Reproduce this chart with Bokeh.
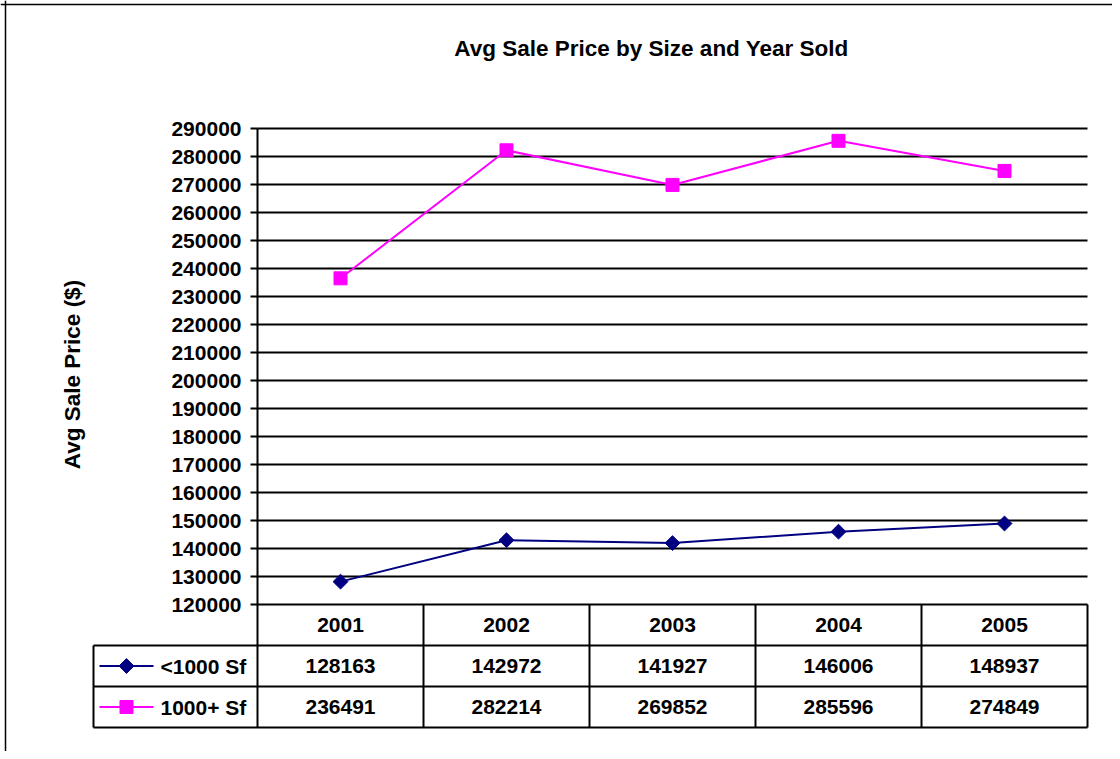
from bokeh.plotting import figure
from bokeh.models import (ColumnDataSource, Range1d, FixedTicker, BasicTickFormatter,
                          Label, Span)
from bokeh.embed import file_html
from bokeh.resources import INLINE
from bokeh.core.properties import value
import math

# ---------------- data ----------------
years = ["2001", "2002", "2003", "2004", "2005"]
small_name = "<1000 Sf"
small_vals = [128163, 142972, 141927, 146006, 148937]
large_name = "1000+ Sf"
large_vals = [236491, 282214, 269852, 285596, 274849]
y_ticks = list(range(120000, 290001, 10000))
title_text = "Avg Sale Price by Size and Year Sold"
y_label = "Avg Sale Price ($)"

# ---------------- layout constants (pixels) ----------------
W, H = 1112, 751
ORG = 0                 # picture offset of the figure origin
PX_X = 166.0            # pixels per category column
PX_Y = 476.0 / 170000   # pixels per $ unit
ROW = 41.0              # table row height in px
FONT = "Liberation Sans"
NAVY = "#000080"
PINK = "#FF00FF"

def xd(px):   # picture x -> category data x (2001 centre at picture x 340)
    return (px - 340.0) / PX_X

def yd(py):   # picture y -> $ value (120000 at picture y 604)
    return y_ticks[0] + (604 - py) / PX_Y

x_start = xd(ORG)
x_end = x_start + W / PX_X
y_end = yd(ORG)
y_start = y_end - H / PX_Y
t_end = (604 - ORG) / ROW
t_start = t_end - H / ROW

p = figure(width=W, height=H, output_backend="svg", toolbar_location=None,
           x_range=Range1d(x_start, x_end), y_range=Range1d(y_start, y_end),
           min_border=0, min_border_left=0, min_border_right=0,
           min_border_top=0, min_border_bottom=0)
p.extra_y_ranges = {"table": Range1d(t_start, t_end)}
p.outline_line_color = None
p.xgrid.visible = False
p.ygrid.visible = False
p.xaxis.visible = False
p.background_fill_color = "white"
p.border_fill_color = "white"

xs = list(range(len(years)))
left_edge = -0.5
right_edge = len(years) - 0.5
legend_left = xd(93)

# horizontal grid lines from tick list
p.segment(x0=[left_edge] * len(y_ticks), x1=[right_edge] * len(y_ticks),
          y0=y_ticks, y1=y_ticks, line_color="black", line_width=2)
# plot-area left axis line
p.segment(x0=[left_edge], x1=[left_edge], y0=[y_ticks[0]], y1=[y_ticks[-1]],
          line_color="black", line_width=2)

# y axis (fixed inside frame)
ax = p.yaxis[0]
ax.fixed_location = left_edge
ax.ticker = FixedTicker(ticks=y_ticks)
ax.formatter = BasicTickFormatter(use_scientific=False)
ax.axis_line_color = None
ax.major_tick_out = 7
ax.major_tick_in = 0
ax.major_tick_line_width = 2
ax.minor_tick_line_color = None
ax.major_label_text_font = FONT
ax.major_label_text_font_style = "bold"
ax.major_label_text_font_size = "21px"
ax.major_label_text_color = "black"
ax.major_label_standoff = 9

# series
src_s = ColumnDataSource(dict(x=xs, y=small_vals))
src_l = ColumnDataSource(dict(x=xs, y=large_vals))
p.line("x", "y", source=src_s, line_color=NAVY, line_width=2)
p.line("x", "y", source=src_l, line_color=PINK, line_width=2)
p.scatter("x", "y", source=src_s, marker="square", angle=math.pi / 4, size=10.5,
          fill_color=NAVY, line_color=NAVY)
p.scatter("x", "y", source=src_l, marker="square", size=13,
          fill_color=PINK, line_color=PINK)

# ---------------- data table ----------------
col_edges = [i - 0.5 for i in range(len(years) + 1)]
p.segment(x0=col_edges, x1=col_edges, y0=[0] * len(col_edges), y1=[-3] * len(col_edges),
          line_color="black", line_width=2, y_range_name="table")
p.segment(x0=[legend_left], x1=[legend_left], y0=[-1], y1=[-3],
          line_color="black", line_width=2, y_range_name="table")
p.segment(x0=[legend_left] * 3, x1=[right_edge] * 3, y0=[-1, -2, -3], y1=[-1, -2, -3],
          line_color="black", line_width=2, y_range_name="table")

txt = dict(text_font=value(FONT), text_font_style="bold", text_font_size="21px",
           text_color="black", text_baseline="middle", y_range_name="table")
p.text(x=xs, y=[-0.5] * len(years), text=years, text_align="center", **txt)
p.text(x=xs, y=[-1.5] * len(years), text=[str(v) for v in small_vals],
       text_align="center", **txt)
p.text(x=xs, y=[-2.5] * len(years), text=[str(v) for v in large_vals],
       text_align="center", **txt)

# legend keys inside table
kx0, kx1, kxm, ktx = xd(99), xd(153), xd(126), xd(160)
p.segment(x0=[kx0, kx0], x1=[kx1, kx1], y0=[-1.5, -2.5], y1=[-1.5, -2.5],
          line_color=[NAVY, PINK], line_width=2, y_range_name="table")
p.scatter(x=[kxm], y=[-1.5], marker="square", angle=math.pi / 4, size=10.5,
          fill_color=NAVY, line_color=NAVY, y_range_name="table")
p.scatter(x=[kxm], y=[-2.5], marker="square", size=13,
          fill_color=PINK, line_color=PINK, y_range_name="table")
p.text(x=[ktx, ktx], y=[-1.5, -2.5], text=[small_name, large_name],
       text_align="left", **txt)

# ---------------- title, axis label, border ----------------
p.add_layout(Label(x=xd(651), y=yd(48), text=title_text,
                   text_font=FONT, text_font_style="bold", text_font_size="22.5px",
                   text_align="center", text_baseline="middle", text_color="black"))
p.add_layout(Label(x=xd(72), y=yd(374), text=y_label,
                   angle=math.pi / 2, text_font=FONT, text_font_style="bold",
                   text_font_size="22.5px", text_align="center",
                   text_baseline="middle", text_color="black"))
p.add_layout(Span(location=xd(5), dimension="height",
                  line_color="black", line_width=1.5))
p.add_layout(Span(location=yd(4), dimension="width",
                  line_color="black", line_width=1.5))

open("out.html", "w").write(file_html(p, INLINE))
